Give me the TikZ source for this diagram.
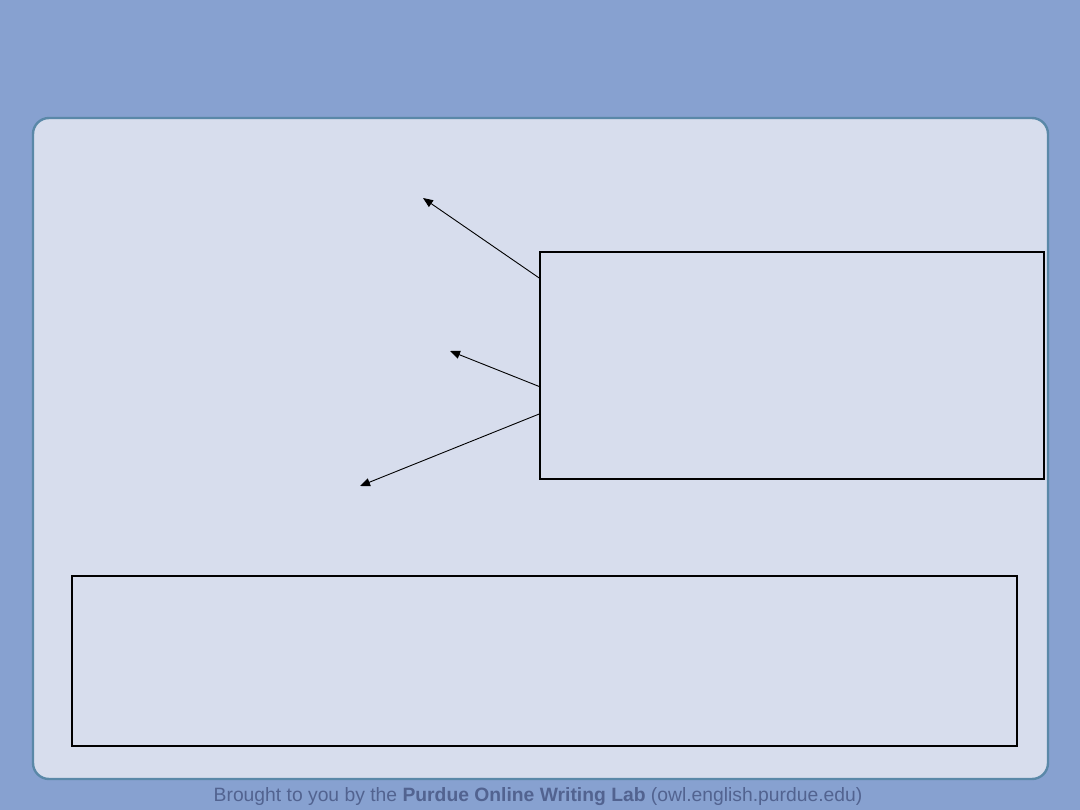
\documentclass[tikz,border=0pt]{standalone}
\usepackage{fontspec}
\setmainfont{Liberation Sans}
\usetikzlibrary{arrows.meta}
\definecolor{bgblue}{HTML}{87A1D0}
\definecolor{panelfill}{HTML}{D7DDED}
\definecolor{paneledge}{HTML}{5A88A8}
\definecolor{foot}{HTML}{526390}
\tikzset{
  emptybox/.style={draw=black, line width=1.6pt, fill=none, inner sep=0pt},
  pointer/.style={draw=black, line width=0.9pt, -{Triangle[length=10pt,width=8pt]}},
}
\begin{document}
\begin{tikzpicture}[x=1pt,y=-1pt]
\useasboundingbox (0,0) rectangle (1080,810);
\fill[bgblue] (0,0) rectangle (1080,810);
\node[draw=paneledge, line width=2.4pt, fill=panelfill, rounded corners=16pt, minimum width=1015pt, minimum height=661pt, inner sep=0pt] (panel) at (540.5,448.5) {};
\node[emptybox, minimum width=504pt, minimum height=227pt] (box1) at (792,365.5) {};
\node[emptybox, minimum width=945pt, minimum height=170pt] (box2) at (544.5,661) {};
\coordinate (t1) at (423,198);
\coordinate (t2) at (450,351);
\coordinate (t3) at (360,486);
\draw[pointer] (box1.west |- 0,278) -- (t1);
\draw[pointer] (box1.west |- 0,386.5) -- (t2);
\draw[pointer] (box1.west |- 0,414) -- (t3);
\node[text=foot, font=\fontsize{19.3}{21}\selectfont, inner sep=0pt] (footer) at (538,797) {Brought to you by the \textbf{Purdue Online Writing Lab} (owl.english.purdue.edu)};
\end{tikzpicture}
\end{document}
